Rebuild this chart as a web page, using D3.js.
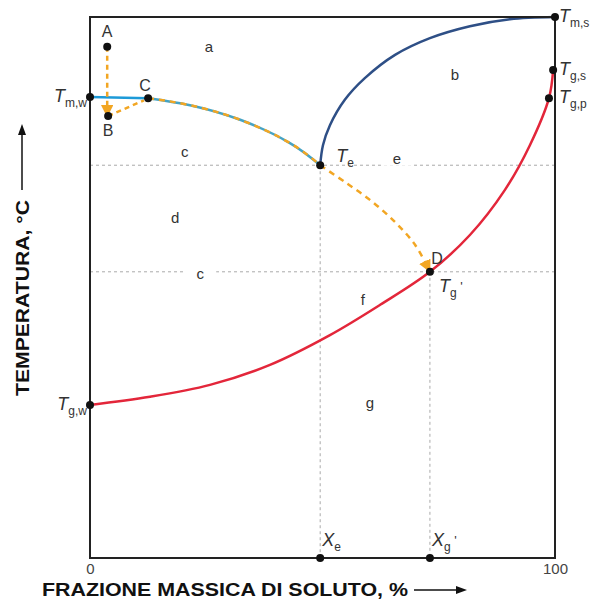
<!DOCTYPE html>
<html lang="it">
<head>
<meta charset="UTF-8">
<title>Diagramma di stato</title>
<script src="https://d3js.org/d3.v7.min.js"></script>
<style>
  body { margin: 0; background: #fff; }
  svg { display: block; font-family: "Liberation Sans", Arial, sans-serif; }
  .lbl { fill: #333; font-size: 15px; }
  .zone { fill: #333; font-size: 15px; }
  .guide { stroke: #aaa; stroke-width: 1; stroke-dasharray: 3,3; fill: none; }
</style>
</head>
<body>
<svg width="594" height="601"></svg>
<script>
// curve points: [frazione massica %, temperatura (scala relativa 0-100)]
const liquidusFlat = [[0, 85.2], [12.5, 85.0]];
const liquidus = [[12.5, 85.0], [21.5, 83.7], [32.3, 81.0], [43.0, 76.7], [49.5, 72.6]];
const solubility = [[49.5, 72.6], [50.1, 76.3], [51.6, 80.0], [54.8, 84.7], [59.1, 88.7], [65.6, 93.0],
                    [73.1, 96.1], [81.7, 98.3], [90.3, 99.6], [100, 100]];
const glassCurve = [[0, 28.3], [12.9, 29.8], [25.8, 32.0], [38.7, 35.7], [51.6, 41.2], [62.4, 46.8],
                    [73.1, 52.9], [81.7, 59.7], [89.2, 68.0], [94.6, 76.3], [98.7, 85.0], [99.6, 90.2]];
const pathAB = [[3.7, 94.5], [3.7, 82.6]];
const pathBC = [[3.9, 81.7], [11.6, 84.6]];
const pathTeD = [[49.5, 72.6], [54.8, 69.5], [60.2, 66.2], [65.6, 62.1], [69.9, 57.9], [72.6, 53.8]];

// punti notevoli
const points = [
  {name: "A", x: 3.7, t: 94.5}, {name: "B", x: 3.9, t: 81.7}, {name: "C", x: 12.5, t: 85.0},
  {name: "Tmw", x: 0, t: 85.2}, {name: "Te", x: 49.5, t: 72.6}, {name: "D", x: 73.1, t: 52.9},
  {name: "Tgw", x: 0, t: 28.3}, {name: "Tms", x: 100, t: 100}, {name: "Tgs", x: 99.6, t: 90.2},
  {name: "Tgp", x: 98.7, t: 85.0}, {name: "Xe", x: 49.5, t: 0}, {name: "Xg", x: 73.1, t: 0}
];
const zones = [
  {name: "a", x: 25.6, t: 94.5}, {name: "b", x: 78.5, t: 89.3}, {name: "c", x: 20.4, t: 75.0},
  {name: "e", x: 66.0, t: 73.8}, {name: "d", x: 18.3, t: 62.8}, {name: "c", x: 23.7, t: 52.5},
  {name: "f", x: 58.7, t: 47.7}, {name: "g", x: 60.2, t: 28.7}
];
const xTicks = [0, 100];

const svg = d3.select("svg");
const x = d3.scaleLinear().domain([0, 100]).range([90, 555]);
const y = d3.scaleLinear().domain([0, 100]).range([558, 17]);

const line = d3.line().x(d => x(d[0])).y(d => y(d[1])).curve(d3.curveCatmullRom.alpha(0.5));
const smooth = d3.line().x(d => x(d[0])).y(d => y(d[1])).curve(d3.curveNatural);

// frecce arancioni
const defs = svg.append("defs");
defs.append("marker")
    .attr("id", "arr")
    .attr("viewBox", "0 0 10 10")
    .attr("refX", 5).attr("refY", 5)
    .attr("markerWidth", 5).attr("markerHeight", 5)
    .attr("orient", "auto")
  .append("path")
    .attr("d", "M0,0 L10,5 L0,10 z")
    .attr("fill", "#f2a623");

// linee guida tratteggiate
const te = points.find(p => p.name == "Te"), dP = points.find(p => p.name == "D");
svg.append("line").attr("class", "guide")
    .attr("x1", x(0)).attr("x2", x(100)).attr("y1", y(te.t)).attr("y2", y(te.t));
svg.append("line").attr("class", "guide")
    .attr("x1", x(0)).attr("x2", x(100)).attr("y1", y(dP.t)).attr("y2", y(dP.t));
svg.append("line").attr("class", "guide")
    .attr("x1", x(te.x)).attr("x2", x(te.x)).attr("y1", y(te.t)).attr("y2", y(0));
svg.append("line").attr("class", "guide")
    .attr("x1", x(dP.x)).attr("x2", x(dP.x)).attr("y1", y(dP.t)).attr("y2", y(0));

// etichette zone (con sfondo bianco per interrompere le guide)
zones.forEach(z => {
  const gx = x(z.x), gy = y(z.t);
  svg.append("rect").attr("x", gx - 16).attr("y", gy - 9).attr("width", 32).attr("height", 16)
     .attr("fill", (z.name == "c" || z.name == "e") ? "#fff" : "none");
  svg.append("text").attr("class", "zone").attr("x", gx).attr("y", gy + 5)
     .attr("text-anchor", "middle").text(z.name);
});

// curve
svg.append("path").attr("d", line(glassCurve)).attr("fill", "none")
   .attr("stroke", "#e3263a").attr("stroke-width", 2.5);
svg.append("path").attr("d", line(solubility)).attr("fill", "none")
   .attr("stroke", "#2e4f86").attr("stroke-width", 2.5);
svg.append("path").attr("d", line(liquidusFlat)).attr("fill", "none")
   .attr("stroke", "#1d9ad8").attr("stroke-width", 2.5);
svg.append("path").attr("d", smooth(liquidus)).attr("fill", "none")
   .attr("stroke", "#46a3c4").attr("stroke-width", 2.5);

// percorso tratteggiato arancione
const orange = "#f2a623";
svg.append("path").attr("d", smooth(liquidus)).attr("fill", "none")
   .attr("stroke", orange).attr("stroke-width", 2.5).attr("stroke-dasharray", "6,5");
[pathAB, pathBC].forEach((p, i) => {
  svg.append("path").attr("d", d3.line().x(d => x(d[0])).y(d => y(d[1]))(p)).attr("fill", "none")
     .attr("stroke", orange).attr("stroke-width", 2.5).attr("stroke-dasharray", "5,4")
     .attr("marker-end", i == 0 ? "url(#arr)" : null);
});
svg.append("path").attr("d", line(pathTeD)).attr("fill", "none")
   .attr("stroke", orange).attr("stroke-width", 2.5).attr("stroke-dasharray", "6,5")
   .attr("marker-end", "url(#arr)");

// riquadro
svg.append("rect").attr("x", x(0)).attr("y", y(100))
   .attr("width", x(100) - x(0)).attr("height", y(0) - y(100))
   .attr("fill", "none").attr("stroke", "#222").attr("stroke-width", 2);

// punti
svg.selectAll("circle.pt").data(points).enter().append("circle")
   .attr("class", "pt").attr("cx", d => x(d.x)).attr("cy", d => y(d.t)).attr("r", 4).attr("fill", "#111");

// etichette dei punti
function label(px, py, main, sub, anchor, italic, prime) {
  const t = svg.append("text").attr("class", "lbl").attr("x", px).attr("y", py)
     .attr("text-anchor", anchor || "start");
  t.append("tspan").style("font-style", italic ? "italic" : "normal")
     .style("font-size", italic ? "18px" : "16px").text(main);
  if (sub) t.append("tspan").attr("dy", 5).style("font-size", "12px").text(sub);
  if (prime) t.append("tspan").attr("dy", -6).style("font-size", "13px").text(" '");
}
label(x(3.7), y(94.5) - 10, "A", null, "middle", false);
label(x(3.9), y(81.7) + 20, "B", null, "middle", false);
label(x(12.5) - 3, y(85.0) - 7, "C", null, "middle", false);
label(x(73.1) + 7, y(52.9) - 8, "D", null, "middle", false);
label(x(0) - 3, y(85.2) + 5, "T", "m,w", "end", true);
label(x(0) - 3, y(28.3) + 5, "T", "g,w", "end", true);
label(x(100) + 4, y(100) + 5, "T", "m,s", "start", true);
label(x(100) + 4, y(90.2) + 5, "T", "g,s", "start", true);
label(x(100) + 4, y(85.0) + 5, "T", "g,p", "start", true);
label(x(49.5) + 16, y(72.6) - 3, "T", "e", "start", true);
label(x(73.1) + 9, y(52.9) + 20, "T", "g", "start", true, true);
label(x(49.5) + 2, y(0) - 12, "X", "e", "start", true);
label(x(73.1) + 2, y(0) - 12, "X", "g", "start", true, true);

// asse x: solo 0 e 100
svg.append("g").attr("transform", "translate(0," + (y(0) + 2) + ")")
   .call(d3.axisBottom(x).tickValues(xTicks).tickSize(0).tickFormat(d3.format("d")))
   .call(g => g.select(".domain").remove())
   .selectAll("text").attr("fill", "#444").style("font-size", "15px")
   .style("font-family", "Liberation Sans, Arial, sans-serif");

// titoli assi
svg.append("text").attr("x", 42).attr("y", 596)
   .attr("textLength", 366).attr("lengthAdjust", "spacingAndGlyphs")
   .style("font-size", "19px").style("font-weight", "bold").attr("fill", "#111")
   .text("FRAZIONE MASSICA DI SOLUTO, %");
svg.append("line").attr("x1", 414).attr("x2", 460).attr("y1", 590).attr("y2", 590)
   .attr("stroke", "#111").attr("stroke-width", 1.5);
svg.append("path").attr("d", "M467,590 L456,586 L456,594 z").attr("fill", "#111");

svg.append("text").attr("transform", "translate(29,396) rotate(-90)")
   .attr("textLength", 196).attr("lengthAdjust", "spacingAndGlyphs")
   .style("font-size", "19px").style("font-weight", "bold").attr("fill", "#111")
   .text("TEMPERATURA, °C");
svg.append("line").attr("x1", 22).attr("x2", 22).attr("y1", 190).attr("y2", 132)
   .attr("stroke", "#111").attr("stroke-width", 1.5);
svg.append("path").attr("d", "M22,124 L18,135 L26,135 z").attr("fill", "#111");
</script>
</body>
</html>
